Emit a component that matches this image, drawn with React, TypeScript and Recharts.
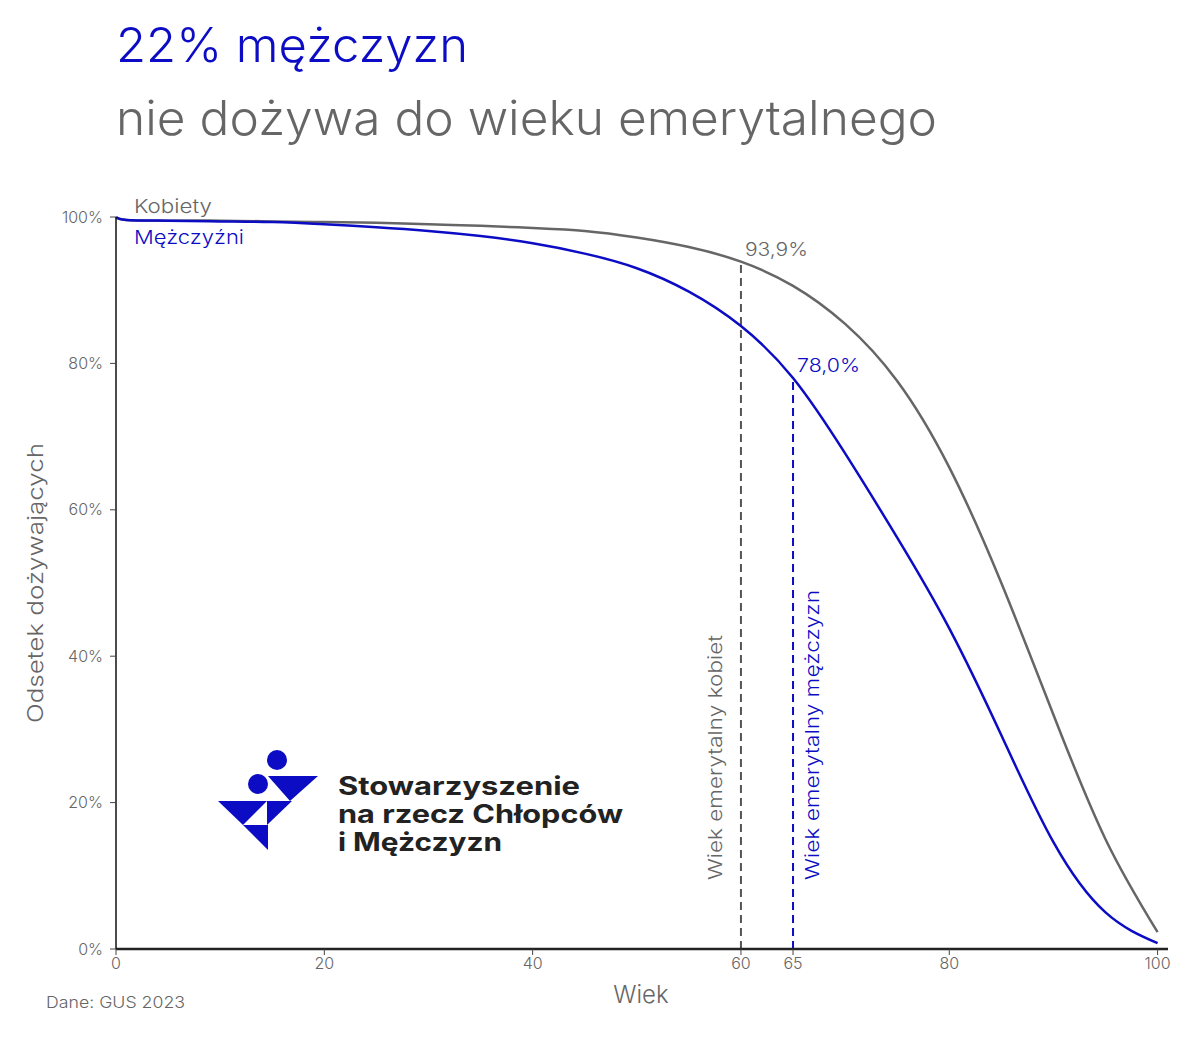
import React from 'react';
import { LineChart, Line, XAxis, YAxis, ReferenceLine, ReferenceDot } from 'recharts';

const AGES = [0, 1, 5, 10, 15, 20, 25, 30, 35, 40, 45, 50, 55, 60, 65, 70, 75, 80, 85, 90, 95, 100];
const KOBIETY = [100, 99.6, 99.5, 99.5, 99.4, 99.3, 99.2, 99.0, 98.8, 98.5, 98.1, 97.2, 95.9, 93.9, 90.6, 85.4, 77.6, 65.8, 50.0, 32.0, 15.0, 2.3];
const MEZCZYZNI = [100, 99.6, 99.5, 99.4, 99.3, 99.0, 98.6, 98.1, 97.4, 96.4, 95.0, 93.0, 89.8, 85.1, 78.0, 67.7, 56.2, 43.8, 29.2, 14.6, 5.0, 0.8];

const X_TICKS = [0, 20, 40, 60, 65, 80, 100];
const Y_TICKS = [0, 20, 40, 60, 80, 100];

const RETIREMENT_WOMEN = { age: 60, value: 93.9, label: '93,9%' };
const RETIREMENT_MEN = { age: 65, value: 78.0, label: '78,0%' };

const BLUE = '#0c0cc4';
const GRAY = '#666666';
const FONT = 'Inter, "Noto Sans", sans-serif';

const data = AGES.map((age, i) => ({ age, kobiety: KOBIETY[i], mezczyzni: MEZCZYZNI[i] }));

const valueLabel = (text: string, color: string) => (props: any) => {
  const { x, y } = props.viewBox;
  return (
    <text
      x={x + 4}
      y={y - 6}
      fill={color}
      fontSize={18}
      fontWeight={300}
      fontFamily={FONT}
      textLength={63}
      lengthAdjust="spacingAndGlyphs"
    >
      {text}
    </text>
  );
};

const verticalLabel = (text: string, color: string, dx: number, len: number) => (props: any) => {
  const { x, y } = props.viewBox;
  const tx = x + dx;
  const ty = y - 69;
  return (
    <text
      x={tx}
      y={ty}
      fill={color}
      fontSize={19}
      fontWeight={300}
      fontFamily={FONT}
      textLength={len}
      lengthAdjust="spacingAndGlyphs"
      transform={`rotate(-90 ${tx} ${ty})`}
    >
      {text}
    </text>
  );
};

function Logo() {
  return (
    <g>
      <circle cx={277} cy={760} r={10} fill={BLUE} />
      <circle cx={258} cy={784} r={10} fill={BLUE} />
      <polygon points="268,776 318,776 290,801" fill={BLUE} />
      <polygon points="218,801 267,801 243,825" fill={BLUE} />
      <polygon points="267,801 292,801 267,825" fill={BLUE} />
      <polygon points="243,825 268,825 268,850" fill={BLUE} />
      <g fill="#222" fontFamily={FONT} fontWeight={700} fontSize={25}>
        <text x={338} y={795} textLength={242} lengthAdjust="spacingAndGlyphs">Stowarzyszenie</text>
        <text x={338} y={823} textLength={285} lengthAdjust="spacingAndGlyphs">na rzecz Chłopców</text>
        <text x={338} y={851} textLength={164} lengthAdjust="spacingAndGlyphs">i Mężczyzn</text>
      </g>
    </g>
  );
}

export default function App() {
  return (
    <div style={{ position: 'absolute', left: 0, top: 0, width: 1200, height: 1039, background: '#fff' }}>
      <LineChart
        width={1200}
        height={1039}
        data={data}
        margin={{ top: 217, right: 32, bottom: 60, left: 56 }}
      >
        <XAxis
          dataKey="age"
          type="number"
          domain={[0, 101]}
          ticks={X_TICKS}
          tickSize={6}
          tickMargin={3}
          height={30}
          axisLine={{ stroke: '#222', strokeWidth: 2.5 }}
          tickLine={{ stroke: '#444' }}
          tick={{ fill: GRAY, fontSize: 16, fontWeight: 300, fontFamily: FONT }}
        />
        <YAxis
          type="number"
          domain={[0, 100]}
          ticks={Y_TICKS}
          width={60}
          tickSize={6}
          tickMargin={7}
          tickFormatter={(v) => `${v}%`}
          axisLine={{ stroke: '#111', strokeWidth: 1.5 }}
          tickLine={{ stroke: '#444' }}
          tick={{ fill: GRAY, fontSize: 16, fontWeight: 300, fontFamily: FONT }}
        />
        <ReferenceLine
          segment={[{ x: RETIREMENT_WOMEN.age, y: 0 }, { x: RETIREMENT_WOMEN.age, y: RETIREMENT_WOMEN.value }]}
          stroke="#555"
          strokeWidth={2}
          strokeDasharray="8 5"
        />
        <ReferenceLine
          segment={[{ x: RETIREMENT_MEN.age, y: 0 }, { x: RETIREMENT_MEN.age, y: RETIREMENT_MEN.value }]}
          stroke={BLUE}
          strokeWidth={2}
          strokeDasharray="8 5"
        />
        <Line
          type="natural"
          dataKey="kobiety"
          stroke={GRAY}
          strokeWidth={2.5}
          dot={false}
          isAnimationActive={false}
        />
        <Line
          type="natural"
          dataKey="mezczyzni"
          stroke={BLUE}
          strokeWidth={2.5}
          dot={false}
          isAnimationActive={false}
        />
        <ReferenceDot
          x={RETIREMENT_WOMEN.age}
          y={RETIREMENT_WOMEN.value}
          r={0}
          stroke="none"
          label={{ content: valueLabel(RETIREMENT_WOMEN.label, GRAY) }}
        />
        <ReferenceDot
          x={RETIREMENT_MEN.age}
          y={RETIREMENT_MEN.value}
          r={0}
          stroke="none"
          label={{ content: valueLabel(RETIREMENT_MEN.label, BLUE) }}
        />
        <ReferenceDot
          x={RETIREMENT_WOMEN.age}
          y={0}
          r={0}
          stroke="none"
          label={{ content: verticalLabel('Wiek emerytalny kobiet', GRAY, -19, 245) }}
        />
        <ReferenceDot
          x={RETIREMENT_MEN.age}
          y={0}
          r={0}
          stroke="none"
          label={{ content: verticalLabel('Wiek emerytalny mężczyzn', BLUE, 26, 290) }}
        />
      </LineChart>
      <svg
        width={1200}
        height={1039}
        style={{ position: 'absolute', left: 0, top: 0, pointerEvents: 'none' }}
      >
        <g fontFamily={FONT} fontWeight={300}>
          <text x={116} y={62} fill={BLUE} fontSize={48} textLength={352} lengthAdjust="spacingAndGlyphs">
            22% mężczyzn
          </text>
          <text x={116} y={135} fill={GRAY} fontSize={48} textLength={821} lengthAdjust="spacingAndGlyphs">
            nie dożywa do wieku emerytalnego
          </text>
          <text x={134} y={213} fill={GRAY} fontSize={19} textLength={78} lengthAdjust="spacingAndGlyphs">
            Kobiety
          </text>
          <text x={134} y={244} fill={BLUE} fontSize={19} textLength={110} lengthAdjust="spacingAndGlyphs">
            Mężczyźni
          </text>
          <text
            x={43}
            y={583}
            fill={GRAY}
            fontSize={22}
            textAnchor="middle"
            textLength={280}
            lengthAdjust="spacingAndGlyphs"
            transform="rotate(-90 43 583)"
          >
            Odsetek dożywających
          </text>
          <text x={641} y={1003} fill={GRAY} fontSize={24} textAnchor="middle">Wiek</text>
          <text x={46} y={1008} fill={GRAY} fontSize={16} textLength={139} lengthAdjust="spacingAndGlyphs">
            Dane: GUS 2023
          </text>
        </g>
        <Logo />
      </svg>
    </div>
  );
}
